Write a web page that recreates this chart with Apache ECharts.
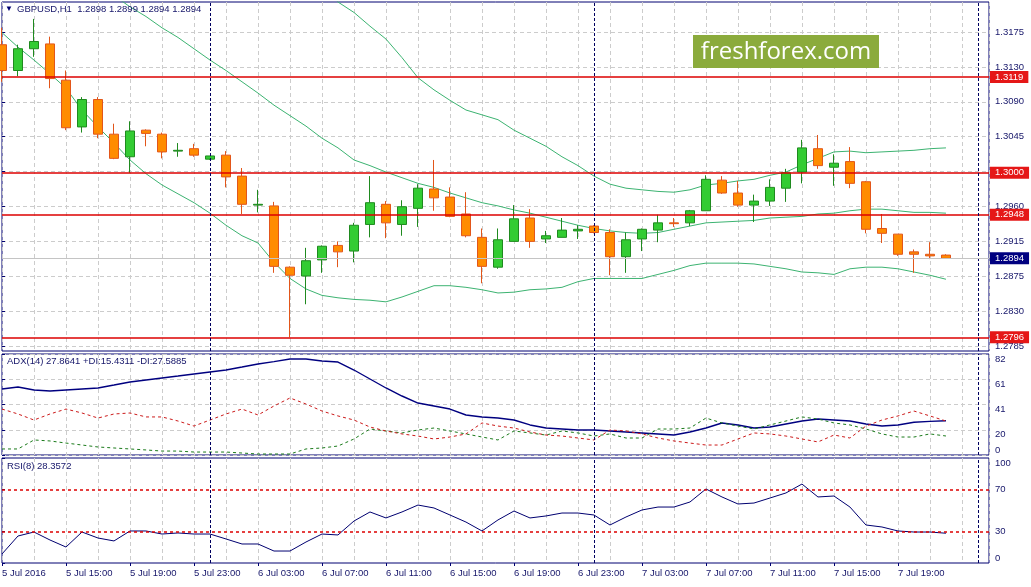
<!DOCTYPE html>
<html>
<head>
<meta charset="utf-8">
<title>GBPUSD H1</title>
<script src="https://cdn.jsdelivr.net/npm/echarts@6/dist/echarts.min.js"></script>
<style>
  html, body { margin: 0; padding: 0; background: #fff; }
  #chart { width: 1031px; height: 587px; }
</style>
</head>
<body>
<div id="chart"></div>
<script>
// GBPUSD H1, 5 Jul 11:00 .. 7 Jul 22:00 - one row per bar: [open, close, low, high]
const ohlc = [
  [1.3159, 1.3127, 1.3113, 1.3180], [1.3127, 1.3154, 1.3120, 1.3159], [1.3154, 1.3163, 1.3144, 1.3191],
  [1.3160, 1.3117, 1.3105, 1.3169], [1.3115, 1.3056, 1.3053, 1.3127], [1.3057, 1.3091, 1.3050, 1.3094],
  [1.3091, 1.3048, 1.3043, 1.3094], [1.3048, 1.3018, 1.3017, 1.3061], [1.3020, 1.3052, 1.3000, 1.3064],
  [1.3053, 1.3049, 1.3033, 1.3054], [1.3048, 1.3026, 1.3018, 1.3050], [1.3027, 1.3028, 1.3020, 1.3037],
  [1.3030, 1.3022, 1.3020, 1.3036], [1.3017, 1.3021, 1.3016, 1.3021], [1.3022, 1.2995, 1.2982, 1.3027],
  [1.2996, 1.2961, 1.2949, 1.3006], [1.2960, 1.2961, 1.2951, 1.2979], [1.2959, 1.2884, 1.2876, 1.2964],
  [1.2883, 1.2873, 1.2796, 1.2884], [1.2872, 1.2891, 1.2837, 1.2907], [1.2892, 1.2909, 1.2876, 1.2910],
  [1.2910, 1.2902, 1.2883, 1.2915], [1.2903, 1.2935, 1.2889, 1.2938], [1.2936, 1.2963, 1.2920, 1.2996],
  [1.2961, 1.2938, 1.2919, 1.2965], [1.2936, 1.2958, 1.2922, 1.2966], [1.2956, 1.2981, 1.2933, 1.2986],
  [1.2980, 1.2969, 1.2953, 1.3016], [1.2970, 1.2946, 1.2945, 1.2982], [1.2949, 1.2922, 1.2920, 1.2976],
  [1.2920, 1.2884, 1.2863, 1.2931], [1.2883, 1.2917, 1.2881, 1.2931], [1.2915, 1.2943, 1.2915, 1.2960],
  [1.2944, 1.2915, 1.2907, 1.2955], [1.2918, 1.2922, 1.2913, 1.2928], [1.2920, 1.2929, 1.2920, 1.2944],
  [1.2928, 1.2930, 1.2918, 1.2935], [1.2934, 1.2926, 1.2925, 1.2935], [1.2926, 1.2896, 1.2873, 1.2930],
  [1.2896, 1.2917, 1.2876, 1.2926], [1.2918, 1.2930, 1.2903, 1.2931], [1.2929, 1.2938, 1.2914, 1.2948],
  [1.2938, 1.2937, 1.2933, 1.2944], [1.2938, 1.2953, 1.2934, 1.2954], [1.2953, 1.2992, 1.2953, 1.2997],
  [1.2991, 1.2975, 1.2974, 1.2996], [1.2975, 1.2960, 1.2958, 1.2990], [1.2960, 1.2965, 1.2939, 1.2973],
  [1.2965, 1.2982, 1.2959, 1.2992], [1.2981, 1.3000, 1.2964, 1.3005], [1.3001, 1.3031, 1.2987, 1.3041],
  [1.3030, 1.3009, 1.3005, 1.3047], [1.3007, 1.3012, 1.2984, 1.3023], [1.3014, 1.2987, 1.2981, 1.3032],
  [1.2989, 1.2930, 1.2925, 1.2990], [1.2931, 1.2925, 1.2913, 1.2949], [1.2924, 1.2899, 1.2897, 1.2924],
  [1.2902, 1.2899, 1.2876, 1.2905], [1.2899, 1.2897, 1.2893, 1.2914], [1.2898, 1.2894, 1.2894, 1.2899]
];

// bollinger bands (null = above the visible window)
const upperBand = [
  null, null, null, null, null, null, null, null, null, null,
  null, null, null, null, null, null, null, null, null, null,
  1.3230, 1.3212, 1.3199, 1.3182, 1.3166, 1.3143, 1.3118, 1.3103, 1.3090, 1.3078,
  1.3072, 1.3066, 1.3053, 1.3043, 1.3033, 1.3020, 1.3009, 1.2996, 1.2986, 1.2981,
  1.2979, 1.2977, 1.2976, 1.2979, 1.2985, 1.2987, 1.2990, 1.2992, 1.2997, 1.3001,
  1.3010, 1.3018, 1.3026, 1.3027, 1.3025, 1.3026, 1.3027, 1.3028, 1.3030, 1.3031
];
const middleBand = [
  null, null, null, null, null, null, null, 1.3220, 1.3206, 1.3194,
  1.3180, 1.3168, 1.3154, 1.3140, 1.3127, 1.3113, 1.3099, 1.3084, 1.3071, 1.3058,
  1.3043, 1.3031, 1.3016, 1.3009, 1.3001, 1.2994, 1.2987, 1.2982, 1.2975, 1.2969,
  1.2963, 1.2959, 1.2954, 1.2950, 1.2945, 1.2940, 1.2935, 1.2931, 1.2928, 1.2926,
  1.2925, 1.2926, 1.2930, 1.2934, 1.2938, 1.2939, 1.2940, 1.2941, 1.2944, 1.2945,
  1.2946, 1.2949, 1.2950, 1.2953, 1.2955, 1.2955, 1.2953, 1.2951, 1.2951, 1.2950
];
const lowerBand = [
  1.3174, 1.3156, 1.3140, 1.3123, 1.3105, 1.3078, 1.3057, 1.3037, 1.3016, 1.2999,
  1.2985, 1.2974, 1.2963, 1.2950, 1.2935, 1.2922, 1.2913, 1.2889, 1.2869, 1.2856,
  1.2848, 1.2845, 1.2843, 1.2842, 1.2840, 1.2846, 1.2853, 1.2860, 1.2860, 1.2858,
  1.2855, 1.2851, 1.2852, 1.2855, 1.2856, 1.2858, 1.2865, 1.2869, 1.2869, 1.2869,
  1.2869, 1.2874, 1.2879, 1.2885, 1.2888, 1.2888, 1.2888, 1.2887, 1.2884, 1.2881,
  1.2877, 1.2876, 1.2874, 1.2881, 1.2883, 1.2883, 1.2881, 1.2877, 1.2873, 1.2868
];

const adx = [
  53.6, 55.2, 52.8, 52.0, 52.8, 53.6, 54.4, 56.8, 59.3, 60.9,
  62.5, 64.1, 65.8, 67.4, 69.0, 71.4, 73.9, 75.8, 77.9, 77.9,
  76.3, 75.5, 69.0, 61.7, 54.4, 47.9, 42.2, 39.8, 37.3, 32.5,
  30.9, 30.0, 28.4, 24.4, 21.9, 21.1, 20.3, 20.3, 19.5, 18.7,
  17.9, 17.1, 16.2, 18.7, 21.9, 26.0, 24.4, 21.9, 22.7, 25.2,
  27.6, 29.2, 28.4, 27.6, 25.2, 23.5, 24.4, 26.6, 27.3, 27.86
];
const plusDi = [
  4.9, 4.9, 12.2, 11.4, 9.7, 8.1, 6.5, 5.7, 4.9, 4.1,
  3.2, 3.2, 2.4, 2.4, 2.4, 1.6, 0.8, 0.8, 0.8, 4.9,
  5.7, 7.3, 13.0, 21.1, 19.5, 17.9, 20.3, 21.9, 19.5, 17.1,
  14.6, 12.2, 19.5, 17.9, 16.2, 19.5, 17.9, 15.4, 17.1, 13.8,
  13.8, 21.1, 21.1, 21.9, 30.0, 26.0, 23.5, 21.1, 24.4, 27.6,
  30.9, 29.2, 26.0, 24.4, 21.1, 17.1, 14.6, 14.6, 17.1, 15.43
];
const minusDi = [
  37.3, 33.3, 28.4, 33.3, 37.3, 34.1, 30.0, 33.3, 34.1, 30.9,
  30.9, 27.6, 23.5, 28.4, 33.3, 37.3, 32.5, 39.8, 46.3, 41.4,
  35.7, 31.7, 28.4, 22.7, 19.5, 17.1, 15.4, 13.0, 14.6, 17.1,
  26.0, 23.5, 21.9, 18.7, 16.2, 15.4, 13.8, 12.2, 20.3, 19.5,
  17.1, 13.8, 11.4, 9.7, 8.1, 8.1, 13.0, 17.9, 17.1, 15.4,
  13.0, 10.6, 16.2, 13.8, 23.5, 28.4, 31.7, 35.7, 31.7, 27.59
];
const rsi = [
  8.6, 25.7, 29.5, 21.9, 15.2, 29.5, 23.8, 21.0, 30.5, 30.5,
  27.6, 28.6, 27.6, 27.6, 22.9, 18.1, 18.1, 11.4, 11.4, 20.0,
  27.6, 26.7, 40.0, 48.6, 42.9, 48.6, 55.2, 52.4, 45.7, 39.0,
  30.5, 41.0, 49.5, 42.9, 44.8, 47.6, 47.6, 45.7, 36.2, 43.8,
  50.5, 53.3, 53.3, 58.1, 70.5, 62.9, 56.2, 57.1, 61.9, 66.7,
  75.2, 62.9, 63.8, 53.3, 36.2, 34.3, 30.5, 29.5, 29.5, 28.36
];

const priceLevels = [1.3119, 1.3000, 1.2948, 1.2796];
const bidPrice = 1.2894;
// price scale labels, bottom to top (evenly spaced rows)
const priceLabels = ['1.2785', '1.2830', '1.2875', '1.2915', '1.2960', '1.3000', '1.3045', '1.3090', '1.3130', '1.3175'];
const adxLabels = ['0', '20', '41', '61', '82'];
const rsiLabels = [0, 30, 70, 100];
const rsiLevels = [30, 70];
const daySeparators = [13, 37, 61];
// one label every 4 bars
const timeLabels = [
  '5 Jul 2016', '5 Jul 15:00', '5 Jul 19:00', '5 Jul 23:00', '6 Jul 03:00',
  '6 Jul 07:00', '6 Jul 11:00', '6 Jul 15:00', '6 Jul 19:00', '6 Jul 23:00',
  '7 Jul 03:00', '7 Jul 07:00', '7 Jul 11:00', '7 Jul 15:00', '7 Jul 19:00'
];

const FONT = 'Liberation Sans';
const NAVY = '#000070';
const TEXT = '#16166a';
const RED = '#dd0000';
const X_MAX = 61.69;
const ADX_STEP = 20.5;
const gridDash = { color: '#cccccc', type: [4, 3], width: 1 };

const chart = echarts.init(document.getElementById('chart'), null, { renderer: 'canvas' });

const withIndex = arr => arr.map((v, i) => [i, v]);

function barAxis(gridIndex) {
  return {
    type: 'value', gridIndex: gridIndex, min: 0, max: X_MAX, interval: 2,
    axisLine: { show: false }, axisTick: { show: false }, axisLabel: { show: false },
    splitLine: { show: true, lineStyle: gridDash }
  };
}

// one style per markLine block
function separatorMarks() {
  return {
    silent: true, symbol: ['none', 'none'], animation: false,
    lineStyle: { color: '#000060', type: [3, 2], width: 1, opacity: 1 },
    label: { show: false },
    emphasis: { disabled: true },
    data: daySeparators.map(k => ({ xAxis: k }))
  };
}

function levelMarks(values, lineColor, lineWidth, labelBg) {
  return {
    silent: true, symbol: ['none', 'none'], animation: false, precision: 4,
    lineStyle: { color: lineColor, type: 'solid', width: lineWidth, opacity: 1 },
    emphasis: { disabled: true },
    label: {
      show: true, position: 'end', distance: 1,
      formatter: p => Number(p.value).toFixed(4),
      color: '#ffffff', backgroundColor: labelBg, padding: [1, 5, 0, 5],
      fontFamily: FONT, fontSize: 9.5, lineHeight: 11
    },
    data: values.map(v => ({ yAxis: v }))
  };
}

const gridBase = { left: 2, right: 42, show: true, borderColor: NAVY, borderWidth: 1, outerBoundsMode: 'none' };
const labelStyle = { color: TEXT, fontFamily: FONT, fontSize: 9.5 };

const option = {
  animation: false,
  backgroundColor: '#ffffff',
  title: [
    { text: '▼', left: 5, top: 5, padding: 0, textStyle: { color: NAVY, fontFamily: FONT, fontSize: 8, fontWeight: 'normal' } },
    { text: 'GBPUSD,H1  1.2898 1.2899 1.2894 1.2894', left: 17, top: 4, padding: 0,
      textStyle: { color: TEXT, fontFamily: FONT, fontSize: 9.5, fontWeight: 'normal' } },
    { text: 'ADX(14) 27.8641 +DI:15.4311 -DI:27.5885', left: 7, top: 356, padding: 0,
      textStyle: { color: TEXT, fontFamily: FONT, fontSize: 9.5, fontWeight: 'normal' } },
    { text: 'RSI(8) 28.3572', left: 7, top: 461, padding: 0,
      textStyle: { color: TEXT, fontFamily: FONT, fontSize: 9.5, fontWeight: 'normal' } }
  ],
  grid: [
    Object.assign({}, gridBase, { top: 2, height: 349 }),
    { left: 2, right: 42, top: 32, height: 314, show: false, outerBoundsMode: 'none' },
    Object.assign({}, gridBase, { top: 354, height: 101 }),
    Object.assign({}, gridBase, { top: 458, height: 105 })
  ],
  xAxis: [
    barAxis(0),
    Object.assign(barAxis(1), { show: false }),
    barAxis(2),
    barAxis(3),
    {
      type: 'value', gridIndex: 3, position: 'bottom', min: 0, max: X_MAX,
      axisLine: { show: false }, splitLine: { show: false },
      axisTick: { show: true, length: 3, customValues: timeLabels.map((_, i) => i * 4), lineStyle: { color: NAVY } },
      axisLabel: Object.assign({
        show: true, margin: 5, align: 'left',
        customValues: timeLabels.map((_, i) => i * 4),
        formatter: v => timeLabels[Math.round(v / 4)] || ''
      }, labelStyle)
    }
  ],
  yAxis: [
    { type: 'value', gridIndex: 0, position: 'right', min: 1.2779, max: 1.3212, scale: true,
      axisLine: { show: false }, axisTick: { show: false }, axisLabel: { show: false }, splitLine: { show: false } },
    { type: 'value', gridIndex: 1, position: 'right', min: 0, max: 9, interval: 1,
      axisLine: { show: false },
      axisTick: { show: true, length: 3, lineStyle: { color: NAVY } },
      axisLabel: Object.assign({ show: true, margin: 6, showMinLabel: true, showMaxLabel: true,
        formatter: v => priceLabels[Math.round(v)] }, labelStyle),
      splitLine: { show: true, lineStyle: gridDash } },
    { type: 'value', gridIndex: 2, position: 'right', min: 0, max: 82, interval: ADX_STEP,
      axisLine: { show: false },
      axisTick: { show: true, length: 3, lineStyle: { color: NAVY } },
      axisLabel: Object.assign({ show: true, margin: 6, showMinLabel: true, showMaxLabel: true,
        verticalAlign: 'top', verticalAlignMinLabel: 'bottom',
        formatter: v => adxLabels[Math.round(v / ADX_STEP)] }, labelStyle),
      splitLine: { show: true, lineStyle: gridDash } },
    { type: 'value', gridIndex: 3, position: 'right', min: 0, max: 100,
      axisLine: { show: false },
      axisTick: { show: true, length: 3, customValues: rsiLabels, lineStyle: { color: NAVY } },
      axisLabel: Object.assign({ show: true, margin: 6, customValues: rsiLabels,
        showMinLabel: true, showMaxLabel: true,
        verticalAlign: 'middle', verticalAlignMinLabel: 'bottom', verticalAlignMaxLabel: 'top',
        formatter: v => String(v) }, labelStyle),
      splitLine: { show: false } }
  ],
  graphic: [
    { type: 'rect', x: 693, y: 35, shape: { width: 186, height: 33 }, style: { fill: '#8bab3c' }, z: 20 },
    { type: 'text', x: 786, y: 52, z: 21,
      style: { text: 'freshforex.com', fill: '#ffffff', font: '24px "Open Sans"', align: 'center', verticalAlign: 'middle' } }
  ],
  series: [
    {
      name: 'GBPUSD', type: 'candlestick', xAxisIndex: 0, yAxisIndex: 0,
      barWidth: 10,
      data: ohlc.map((c, i) => [i, c[0], c[1], c[2], c[3]]),
      encode: { x: 0, y: [1, 2, 3, 4] },
      itemStyle: {
        color: '#33cc33', color0: '#ff8c00',
        borderColor: '#1f8a1f', borderColor0: '#e2561a', borderWidth: 1
      },
      markLine: levelMarks(priceLevels, RED, 1.5, '#e51717')
    },
    { name: 'BB upper', type: 'line', xAxisIndex: 0, yAxisIndex: 0, data: withIndex(upperBand),
      showSymbol: false, symbol: 'none', lineStyle: { color: '#3cb371', width: 1 }, z: 1,
      markLine: separatorMarks() },
    { name: 'BB middle', type: 'line', xAxisIndex: 0, yAxisIndex: 0, data: withIndex(middleBand),
      showSymbol: false, symbol: 'none', lineStyle: { color: '#3cb371', width: 1 }, z: 1,
      markLine: levelMarks([bidPrice], '#c4c4c4', 1, '#000080') },
    { name: 'BB lower', type: 'line', xAxisIndex: 0, yAxisIndex: 0, data: withIndex(lowerBand),
      showSymbol: false, symbol: 'none', lineStyle: { color: '#3cb371', width: 1 }, z: 1 },
    { name: 'labels', type: 'line', xAxisIndex: 1, yAxisIndex: 1, data: [] },
    { name: 'ADX', type: 'line', xAxisIndex: 2, yAxisIndex: 2, data: withIndex(adx),
      showSymbol: false, symbol: 'none', lineStyle: { color: '#000080', width: 1.4 },
      markLine: separatorMarks() },
    { name: '+DI', type: 'line', xAxisIndex: 2, yAxisIndex: 2, data: withIndex(plusDi),
      showSymbol: false, symbol: 'none', lineStyle: { color: '#1a7a1a', width: 1, type: [3, 3] } },
    { name: '-DI', type: 'line', xAxisIndex: 2, yAxisIndex: 2, data: withIndex(minusDi),
      showSymbol: false, symbol: 'none', lineStyle: { color: '#cc1a1a', width: 1, type: [3, 3] } },
    { name: 'RSI', type: 'line', xAxisIndex: 3, yAxisIndex: 3, data: withIndex(rsi),
      showSymbol: false, symbol: 'none', lineStyle: { color: '#000070', width: 1 },
      markLine: {
        silent: true, symbol: ['none', 'none'], animation: false,
        lineStyle: { color: RED, type: [3, 3], width: 1.5, opacity: 1 },
        label: { show: false }, emphasis: { disabled: true },
        data: rsiLevels.map(v => ({ yAxis: v }))
      } },
    { name: 'RSI separators', type: 'line', xAxisIndex: 3, yAxisIndex: 3, data: [],
      markLine: separatorMarks() }
  ]
};

chart.setOption(option);
</script>
</body>
</html>
